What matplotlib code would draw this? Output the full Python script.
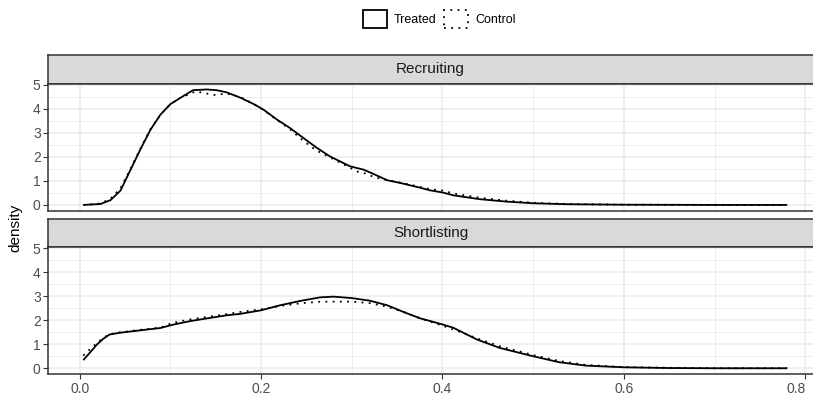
import matplotlib
matplotlib.use("Agg")
import matplotlib.pyplot as plt
import matplotlib.transforms as mtransforms
from matplotlib.patches import Patch

plt.rcParams['font.family'] = ['Liberation Sans', 'DejaVu Sans']

# ---- data ----
panels = ["Recruiting", "Shortlisting"]

rec_treat_x = [0.004, 0.023, 0.034, 0.045, 0.056, 0.067, 0.078, 0.089, 0.100, 0.111, 0.125, 0.140,
               0.151, 0.162, 0.177, 0.192, 0.203, 0.217, 0.232, 0.247, 0.261, 0.276, 0.298, 0.313,
               0.324, 0.339, 0.353, 0.375, 0.386, 0.400, 0.412, 0.441, 0.470, 0.500, 0.537, 0.600,
               0.700, 0.780]
rec_treat_y = [0.0, 0.04, 0.2, 0.6, 1.46, 2.32, 3.13, 3.76, 4.2, 4.46, 4.78, 4.81,
               4.78, 4.69, 4.47, 4.2, 3.96, 3.57, 3.2, 2.78, 2.39, 2.02, 1.61, 1.47,
               1.29, 1.03, 0.92, 0.72, 0.61, 0.52, 0.40, 0.24, 0.14, 0.07, 0.03, 0.01,
               0.0, 0.0]

rec_ctrl_x = [0.004, 0.023, 0.034, 0.045, 0.056, 0.067, 0.078, 0.089, 0.100, 0.111, 0.128, 0.140,
              0.149, 0.162, 0.177, 0.192, 0.203, 0.217, 0.232, 0.245, 0.256, 0.263, 0.276, 0.298,
              0.305, 0.316, 0.324, 0.339, 0.360, 0.386, 0.400, 0.412, 0.441, 0.470, 0.500, 0.537,
              0.600, 0.700, 0.780]
rec_ctrl_y = [0.0, 0.06, 0.26, 0.7, 1.5, 2.35, 3.15, 3.76, 4.2, 4.46, 4.73, 4.64,
              4.58, 4.64, 4.5, 4.2, 3.95, 3.55, 3.15, 2.72, 2.4, 2.23, 1.98, 1.55,
              1.4, 1.3, 1.17, 1.03, 0.88, 0.66, 0.6, 0.48, 0.3, 0.18, 0.09, 0.04,
              0.01, 0.0, 0.0]

sl_x = [0.004, 0.011, 0.019, 0.026, 0.033, 0.044, 0.066, 0.089, 0.103, 0.122, 0.140, 0.162,
        0.177, 0.200, 0.221, 0.243, 0.265, 0.280, 0.300, 0.320, 0.339, 0.357, 0.375, 0.400,
        0.412, 0.438, 0.463, 0.500, 0.529, 0.558, 0.600, 0.648, 0.700, 0.780]
sl_treat_y = [0.34, 0.64, 0.99, 1.23, 1.41, 1.48, 1.58, 1.68, 1.82, 1.97, 2.08, 2.21,
              2.27, 2.42, 2.63, 2.81, 2.96, 2.99, 2.93, 2.82, 2.63, 2.35, 2.09, 1.83,
              1.69, 1.2, 0.85, 0.5, 0.25, 0.11, 0.04, 0.01, 0.0, 0.0]
sl_ctrl_y = [0.53, 0.78, 1.05, 1.27, 1.42, 1.5, 1.6, 1.7, 1.9, 2.04, 2.14, 2.26,
             2.35, 2.46, 2.6, 2.71, 2.78, 2.78, 2.78, 2.72, 2.57, 2.35, 2.09, 1.78,
             1.62, 1.25, 0.92, 0.55, 0.3, 0.14, 0.05, 0.02, 0.0, 0.0]

x_ticks = [0.0, 0.2, 0.4, 0.6, 0.8]
x_labels = ["0.0", "0.2", "0.4", "0.6", "0.8"]
x_minor = [0.1, 0.3, 0.5, 0.7]
y_ticks = [0, 1, 2, 3, 4, 5]
y_minor = [0.5, 1.5, 2.5, 3.5, 4.5]

series = [
    (rec_treat_x, rec_treat_y, rec_ctrl_x, rec_ctrl_y),
    (sl_x, sl_treat_y, sl_x, sl_ctrl_y),
]

W, H = 813, 399
fig = plt.figure(figsize=(W / 100, H / 100), dpi=100)


def box(x0, y0, x1, y1):
    # pixel box (top-left origin) -> figure fraction
    return [x0 / W, 1 - y1 / H, (x1 - x0) / W, (y1 - y0) / H]


grid_col = "#EBEBEB"
edge_col = "#333333"
left, right = 48.3, 815
layout = [(55, 83.7, 210.7), (219.3, 247.3, 374)]

for i, (name, (tx, ty, cx, cy)) in enumerate(zip(panels, series)):
    s_top, p_top, p_bot = layout[i]

    # strip
    sax = fig.add_axes(box(left, s_top, right, p_top))
    sax.set_facecolor("#D9D9D9")
    sax.set_xticks([])
    sax.set_yticks([])
    for sp in sax.spines.values():
        sp.set_color(edge_col)
        sp.set_linewidth(1.1)
    sax.text(0.5 * (813 - left) / (right - left), 0.5, name, transform=sax.transAxes,
             ha="center", va="center", fontsize=11, color="#1A1A1A")

    ax = fig.add_axes(box(left, p_top, right, p_bot))
    ax.plot(tx, ty, color="black", lw=1.3, solid_capstyle="butt")
    ax.plot(cx, cy, color="black", lw=1.3, linestyle=(0, (1, 3)))

    ax.set_xlim(-0.0346, 0.8107)
    ax.set_ylim(-0.24, 5.05)
    ax.set_xticks(x_ticks)
    ax.set_xticks(x_minor, minor=True)
    ax.set_yticks(y_ticks)
    ax.set_yticks(y_minor, minor=True)
    ax.grid(which="major", color=grid_col, lw=1.1)
    ax.grid(which="minor", color=grid_col, lw=0.6)
    ax.set_axisbelow(True)
    ax.tick_params(which="minor", length=0)
    ax.tick_params(which="major", length=3.5, width=0.8, color=edge_col,
                   labelsize=10, labelcolor="#4D4D4D", pad=2)
    for sp in ax.spines.values():
        sp.set_color(edge_col)
        sp.set_linewidth(1.1)
    if i == 0:
        ax.tick_params(axis="x", labelbottom=False, length=0)
    else:
        ax.set_xticklabels(x_labels)
        # the last label sits a little left so it stays inside the picture
        last = ax.get_xticklabels()[-1]
        last.set_transform(last.get_transform() +
                           mtransforms.ScaledTranslation(-0.09, 0, fig.dpi_scale_trans))

fig.text(15 / W, 1 - 228 / H, "density", rotation=90, ha="center", va="center",
         fontsize=11, color="black")

handles = [
    Patch(facecolor="white", edgecolor="black", linewidth=1.3, linestyle="-", label="Treated"),
    Patch(facecolor="white", edgecolor="black", linewidth=1.3, linestyle=(0, (1, 3)), label="Control"),
]
fig.legend(handles=handles, loc="center", bbox_to_anchor=(439.5 / W, 1 - 19 / H), ncol=2,
           frameon=False, fontsize=9, handlelength=1.9, handleheight=1.9,
           handletextpad=0.6, columnspacing=0.6, borderpad=0)

fig.savefig("out.png", dpi=100)
